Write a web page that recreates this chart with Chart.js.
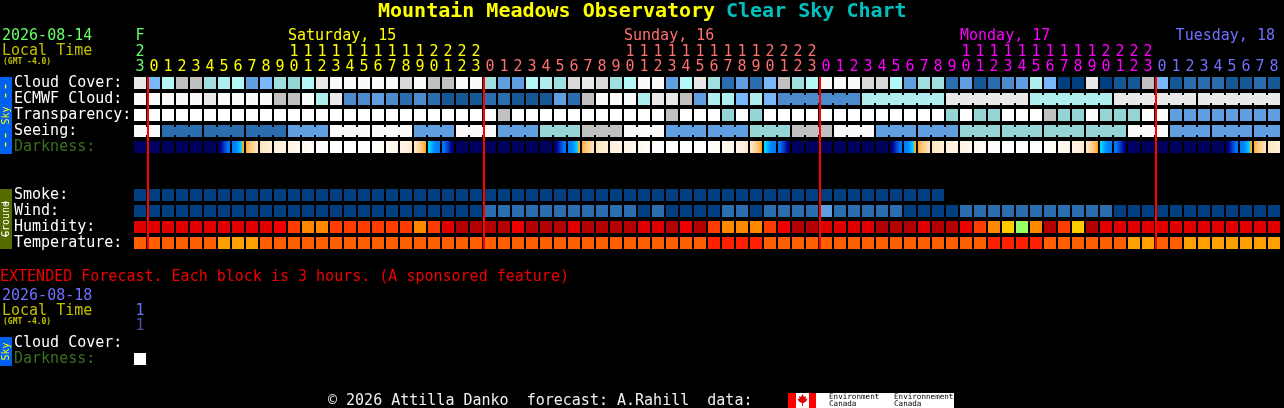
<!DOCTYPE html>
<html>
<head>
<meta charset="utf-8">
<title>Mountain Meadows Observatory Clear Sky Chart</title>
<script src="https://cdn.jsdelivr.net/npm/chart.js@4/dist/chart.umd.min.js"></script>
<style>
  html, body { margin: 0; padding: 0; background: #000; overflow: hidden; }
  canvas { display: block; }
</style>
</head>
<body>
<canvas id="chartCsk" width="1284" height="408"></canvas>
<script>
// Colunas: hora local de cada bloco
const hours = [23,0,1,2,3,4,5,6,7,8,9,10,11,12,13,14,15,16,17,18,19,20,21,22,23,
  0,1,2,3,4,5,6,7,8,9,10,11,12,13,14,15,16,17,18,19,20,21,22,23,
  0,1,2,3,4,5,6,7,8,9,10,11,12,13,14,15,16,17,18,19,20,21,22,23,
  0,1,2,3,4,5,6,7,8];
const midnightCols = [1, 25, 49, 73];

const rowLabels = ['Cloud Cover:','ECMWF Cloud:','Transparency:','Seeing:','Darkness:',
  'Smoke:','Wind:','Humidity:','Temperature:','Cloud Cover:','Darkness:'];
const rowValues = [0,1,2,3,4,7,8,9,10,16.25,17.25];

// Niveis (indice em skyColors)
const cloudCover = [12,5,6,10,10,8,7,6,4,5,8,9,6,12,13,13,13,13,13,11,13,
  10,10,13,13,8,4,4,6,7,8,11,12,11,8,6,13,13,4,6,12,8,2,4,2,5,10,8,6,13,13,13,
  11,11,6,4,8,8,2,4,1,2,3,4,7,5,0,0,12,0,1,1,10,5,1,2,2,2,1,1,2,1];
const ecmwfCloud = [13,13,13,13,13,12,13,13,13,13,10,10,13,7,12,3,3,4,3,2,3,
  2,1,1,1,2,2,1,1,1,4,2,10,13,13,13,7,12,12,10,4,7,7,5,7,5,
  3,3,3,3,3,3,7,7,7,7,7,7,12,12,12,12,12,12,7,7,7,7,7,7,12,12,12,12,12,12,12,12,12,12,12,12];
const transparency = [14,14,14,14,14,14,14,14,14,14,14,14,14,14,14,14,14,14,14,14,14,14,14,14,14,14,
  10,14,14,14,14,14,14,14,14,14,14,14,10,14,14,14,9,14,9,14,14,14,14,14,14,14,14,14,14,14,14,14,
  9,14,9,9,14,14,14,10,9,9,14,9,9,9,14,14,4,4,4,4,4,4,4,4];
const seeing = [13,13,2,2,2,2,2,2,2,2,2,4,4,4,13,13,13,13,13,13,4,4,4,13,13,13,4,4,4,9,9,9,10,10,10,
  13,13,13,4,4,4,4,4,4,9,9,9,10,10,10,13,13,13,4,4,4,4,4,4,9,9,9,9,9,9,9,9,9,9,9,9,13,13,13,4,4,4,4,4,4,4,4];
const darknessEdges = [.3,.3,.2,.2,.2,.2,.2,3.6,5.1,6.3,7,7.5,8,8.6,9,9,9,9,8.4,7.6,6.6,4.9,3.6,.3,
  .3,.2,.2,.2,.2,.2,.2,3.6,5.1,6.3,7,7.5,8,8.6,9,9,9,9,8.4,7.6,6.6,4.9,3.6,.3,
  .2,.2,.2,.2,.2,.2,.2,3.6,5.1,6.3,7,7.5,8,8.6,9,9,9,9,8.4,7.6,6.6,4.9,3.6,.5,
  .2,.2,.2,.2,.2,.2,.2,3.6,5.1,6.3,7];
const smoke = [0,0,0,0,0,0,0,0,0,0,0,0,0,0,0,0,0,0,0,0,0,0,0,0,0,0,0,0,0,
  0,0,0,0,0,0,0,0,0,0,0,0,0,0,0,0,0,0,0,0,0,0,0,0,0,0,0,0,0];
const wind = [0,0,0,0,0,0,0,0,0,0,0,0,0,0,0,0,0,0,0,0,0,0,0,0,0,
  2,2,2,2,2,2,2,2,2,2,2,0,2,0,0,0,0,2,2,0,2,2,2,2,4,2,2,2,2,2,
  0,0,0,0,2,2,2,2,2,2,2,2,2,2,2,0,0,0,0,0,0,0,0,0,0,0,0];
const humidity = [1,1,1,1,1,1,1,1,1,1,2,3,4,4,3,3,3,3,3,3,4,3,1,0,0,0,0,2,0,0,0,1,0,0,0,0,1,1,0,2,0,
  3,4,4,4,3,2,0,0,1,1,1,1,0,0,0,1,0,0,2,3,4,5,6,4,0,3,5,0,1,1,1,1,1,1,1,1,1,1,1,1,1];
const temperature = [0,0,0,0,0,0,1,1,1,0,0,0,0,0,0,0,0,0,0,0,0,0,0,0,0,0,0,0,0,0,0,0,0,0,0,0,0,0,0,0,0,
  2,2,2,2,0,0,0,0,0,0,0,0,0,0,0,0,0,0,0,0,2,2,2,2,0,0,0,0,0,0,1,1,0,0,1,1,1,1,1,1,1];
const extDarkness = [14];

// Blocos ligados por uma ponte fina (modelo de 3 e 6 horas)
const ecmwfBlocks = [1,1,1,1,1,1,1,1,1,1,1,1,1,1,1,1,1,1,1,1,1,1,1,1,1,1,1,1,1,1,1,1,1,1,1,1,1,1,1,1,1,1,1,1,1,1,6,6,6,6,6,6];
const seeingBlocks = [2,3,3,3,3,3,3,3,3,3,3,3,3,3,3,3,3,3,3,3,3,3,3,3,3,3,3,2];

// Paletas
const skyColors = ['#003F7F','#165796','#2B6DAE','#4B8BCB','#5F9FDF','#78B8F8','#B3F7F7','#AEEEEE',
  '#9FDFDF','#96D5D5','#C0C0C0','#D9D9D9','#E9E9E9','#FAFAFA','#FFFFFF'];
const humidityColors = ['#B30000','#E00000','#EE0000','#FF3C00','#FF8800','#FFCC00','#99FF66'];
const temperatureColors = ['#FF5F00','#FFA000','#FF2000'];
const darknessLevels = [0,1,2,3,4.2,4.75,4.85,4.9,5.5,6.3,7,8,9];
const darknessColors = ['#000050','#000090','#0040C8','#0070F0','#0088FF','#00D8FF','#00D8FF','#FFA020',
  '#FFC878','#FFE4BC','#FFF0DC','#FFF8EE','#FFFFFF'];

const FONT_MONO = '"DejaVu Sans Mono", monospace';
const GREEN = '#66FF66', YELLOW = '#FFFF00', OLIVE = '#C0C000', PINK = '#FF7070', MAGENTA = '#FF00FF', VIOLET = '#7070FF';
const HALF_ROW = 0.375;

function hourColor(col) {
  if (col < midnightCols[0]) return GREEN;
  if (col < midnightCols[1]) return YELLOW;
  if (col < midnightCols[2]) return PINK;
  if (col < midnightCols[3]) return MAGENTA;
  return VIOLET;
}

function joinsFromBlocks(blocks) {
  const joins = [];
  blocks.forEach(size => {
    for (let i = 0; i < size; i++) joins.push(i < size - 1);
  });
  return joins;
}

function barRow(values, row, colors) {
  return {
    data: values.map(() => [row - HALF_ROW, row + HALF_ROW]),
    backgroundColor: values.map(v => colors[v]),
    grouped: false,
    barPercentage: 12 / 14,
    categoryPercentage: 1,
    order: 2
  };
}

function bridgeRow(values, row, blocks) {
  const joins = joinsFromBlocks(blocks);
  return {
    type: 'line',
    data: values.map(() => row),
    borderWidth: 8,
    borderCapStyle: 'butt',
    borderColor: 'transparent',
    pointRadius: 0,
    tension: 0,
    order: 1,
    segment: {
      borderColor: ctx => joins[ctx.p0DataIndex] ? skyColors[values[ctx.p0DataIndex]] : 'transparent'
    }
  };
}

function darknessColorAt(level) {
  return darknessColors[darknessLevels.indexOf(level)];
}

function darknessInterp(level) {
  const i = darknessLevels.findIndex(l => l >= level);
  if (i <= 0) return darknessColors[0];
  const t = (level - darknessLevels[i - 1]) / (darknessLevels[i] - darknessLevels[i - 1]);
  const a = hexRgb(darknessColors[i - 1]), b = hexRgb(darknessColors[i]);
  return `rgb(${a.map((c, n) => Math.round(c + (b[n] - c) * t)).join(',')})`;
}

function hexRgb(hex) {
  return [1, 3, 5].map(p => parseInt(hex.substr(p, 2), 16));
}

// Gradiente horizontal dentro de cada bloco de escuridao
function darknessFill(ctx) {
  if (ctx.dataIndex === undefined) return darknessColors[0];
  const chart = ctx.chart, i = ctx.dataIndex;
  const edge = chart.scales.xEdge;
  const left = edge.getPixelForValue(i), right = edge.getPixelForValue(i + 12 / 14);
  if (!isFinite(left) || !isFinite(right)) return darknessColors[0];
  const from = darknessEdges[i], to = darknessEdges[i + 1];
  const grad = chart.ctx.createLinearGradient(left, 0, right, 0);
  grad.addColorStop(0, darknessInterp(from));
  if (from !== to) {
    darknessLevels.forEach(level => {
      if (level > Math.min(from, to) && level < Math.max(from, to)) {
        grad.addColorStop((level - from) / (to - from), darknessColorAt(level));
      }
    });
  }
  grad.addColorStop(1, darknessInterp(to));
  return grad;
}

const midnightLines = midnightCols.map(col => ({
  type: 'line',
  xAxisID: 'xEdge',
  data: [{ x: col, y: rowValues[0] - HALF_ROW }, { x: col, y: rowValues[8] + HALF_ROW }],
  borderColor: '#FF0000',
  borderWidth: 2,
  pointRadius: 0,
  order: 0
}));

const datasets = [
  barRow(cloudCover, rowValues[0], skyColors),
  barRow(ecmwfCloud, rowValues[1], skyColors),
  bridgeRow(ecmwfCloud, rowValues[1], ecmwfBlocks),
  barRow(transparency, rowValues[2], skyColors),
  barRow(seeing, rowValues[3], skyColors),
  bridgeRow(seeing, rowValues[3], seeingBlocks),
  Object.assign(barRow(darknessEdges.slice(0, 82), rowValues[4], skyColors), { backgroundColor: darknessFill }),
  barRow(smoke, rowValues[5], skyColors),
  barRow(wind, rowValues[6], skyColors),
  barRow(humidity, rowValues[7], humidityColors),
  barRow(temperature, rowValues[8], temperatureColors),
  barRow(extDarkness, rowValues[10], skyColors),
  ...midnightLines
];

function text(c, str, x, y, color, font, align) {
  c.font = font;
  c.fillStyle = color;
  c.textAlign = align || 'left';
  c.textBaseline = 'middle';
  c.fillText(str, x, y);
}

function sideStrip(c, top, bottom, color, textColor, word, dashes) {
  c.fillStyle = color;
  c.fillRect(0, top, 12, bottom - top);
  c.save();
  c.translate(6, (top + bottom) / 2);
  c.rotate(-Math.PI / 2);
  text(c, word, 0, 0, textColor, `10px ${FONT_MONO}`, 'center');
  if (dashes) {
    const off = (bottom - top) / 2 - 14;
    text(c, dashes, off, 0, textColor, `15px ${FONT_MONO}`, 'center');
    text(c, dashes, -off, 0, textColor, `15px ${FONT_MONO}`, 'center');
  }
  c.restore();
}

function mapleLeaf(c, x, y) {
  const pts = [[0,-6],[1.5,-3],[3.5,-4],[3,-1],[5,-1.5],[4,1],[1,3],[.5,3],[.5,6],[-.5,6],[-.5,3],[-1,3],[-4,1],[-5,-1.5],[-3,-1],[-3.5,-4],[-1.5,-3]];
  c.fillStyle = '#E00000';
  c.beginPath();
  pts.forEach(([px, py], i) => i ? c.lineTo(x + px, y + py) : c.moveTo(x + px, y + py));
  c.closePath();
  c.fill();
}

// Textos fora dos eixos: titulo, datas, faixas laterais, rodape
const chartText = {
  id: 'chartText',
  afterDraw(chart) {
    const c = chart.ctx;
    const edge = chart.scales.xEdge;
    const mono15 = `15px ${FONT_MONO}`, small = `bold 8px ${FONT_MONO}`;
    c.save();

    text(c, 'Mountain Meadows Observatory', 378, 12, YELLOW, `bold 20px ${FONT_MONO}`);
    text(c, 'Clear Sky Chart', 726, 12, '#00C0C0', `bold 20px ${FONT_MONO}`);

    text(c, '2026-08-14', 2, 36, GREEN, mono15);
    text(c, 'Local Time', 2, 51, OLIVE, mono15);
    text(c, '(GMT -4.0)', 3, 62, OLIVE, small);
    text(c, 'F', edge.getPixelForValue(0) + 6, 36, GREEN, mono15, 'center');
    text(c, 'Saturday, 15', edge.getPixelForValue(11), 36, YELLOW, mono15);
    text(c, 'Sunday, 16', edge.getPixelForValue(35), 36, PINK, mono15);
    text(c, 'Monday, 17', edge.getPixelForValue(59), 36, MAGENTA, mono15);
    text(c, 'Tuesday, 18', edge.getPixelForValue(74.4), 36, VIOLET, mono15);

    sideStrip(c, 77, 154, '#0060F0', YELLOW, 'Sky', '--');
    sideStrip(c, 189, 249, '#556B00', '#FFFFFF', 'Ground', '-');
    sideStrip(c, 337, 366, '#0060F0', YELLOW, 'Sky');

    text(c, 'EXTENDED Forecast. Each block is 3 hours. (A sponsored feature)', 0, 277, '#F00000', mono15);
    text(c, '2026-08-18', 2, 296, VIOLET, mono15);
    text(c, 'Local Time', 2, 311, OLIVE, mono15);
    text(c, '(GMT -4.0)', 3, 322, OLIVE, small);
    text(c, '1', edge.getPixelForValue(0) + 6, 311, VIOLET, mono15, 'center');
    text(c, '1', edge.getPixelForValue(0) + 6, 326, '#5050A0', mono15, 'center');

    text(c, '\u00A9 2026 Attilla Danko  forecast: A.Rahill  data:', 328, 401, '#F0F0F0', mono15);
    c.fillStyle = '#FFFFFF';
    c.fillRect(788, 393, 166, 15);
    c.fillStyle = '#FF0000';
    c.fillRect(788, 393, 8, 15);
    c.fillRect(809, 393, 7, 15);
    mapleLeaf(c, 802.5, 400);
    const tiny = `7.6px ${FONT_MONO}`;
    text(c, 'Environment', 829, 397, '#000000', tiny);
    text(c, 'Canada', 829, 404, '#000000', tiny);
    text(c, 'Environnement', 894, 397, '#000000', tiny);
    text(c, 'Canada', 894, 404, '#000000', tiny);

    c.restore();
  }
};

new Chart(document.getElementById('chartCsk').getContext('2d'), {
  type: 'bar',
  data: { labels: hours, datasets: datasets },
  options: {
    responsive: false,
    animation: false,
    devicePixelRatio: 1,
    events: [],
    layout: { padding: { left: 14, right: 3, top: 30, bottom: 41 } },
    plugins: { legend: { display: false }, tooltip: { enabled: false } },
    scales: {
      x: {
        position: 'top',
        grid: { display: false, drawTicks: false },
        border: { display: false },
        afterFit: scale => { scale.height = 45; },
        ticks: {
          autoSkip: false,
          maxRotation: 0,
          padding: 0,
          font: { family: FONT_MONO, size: 15, lineHeight: 1 },
          color: ctx => hourColor(ctx.index),
          callback: (value, index) => {
            const h = hours[index];
            return [h >= 10 ? String(Math.floor(h / 10)) : ' ', String(h % 10)];
          }
        }
      },
      xEdge: { type: 'linear', display: false, offset: false, min: -1 / 14, max: 82 - 1 / 14 },
      y: {
        type: 'linear',
        reverse: true,
        min: -0.5,
        max: 17.75,
        grid: { display: false, drawTicks: false },
        border: { display: false },
        afterBuildTicks: scale => { scale.ticks = rowValues.map(value => ({ value })); },
        afterFit: scale => { scale.width = 119; },
        ticks: {
          autoSkip: false,
          crossAlign: 'far',
          font: { family: FONT_MONO, size: 15 },
          color: ctx => rowLabels[ctx.index] === 'Darkness:' ? '#3A7020' : '#FFFFFF',
          callback: (value, index) => rowLabels[index]
        }
      }
    }
  },
  plugins: [chartText]
});
</script>
</body>
</html>
